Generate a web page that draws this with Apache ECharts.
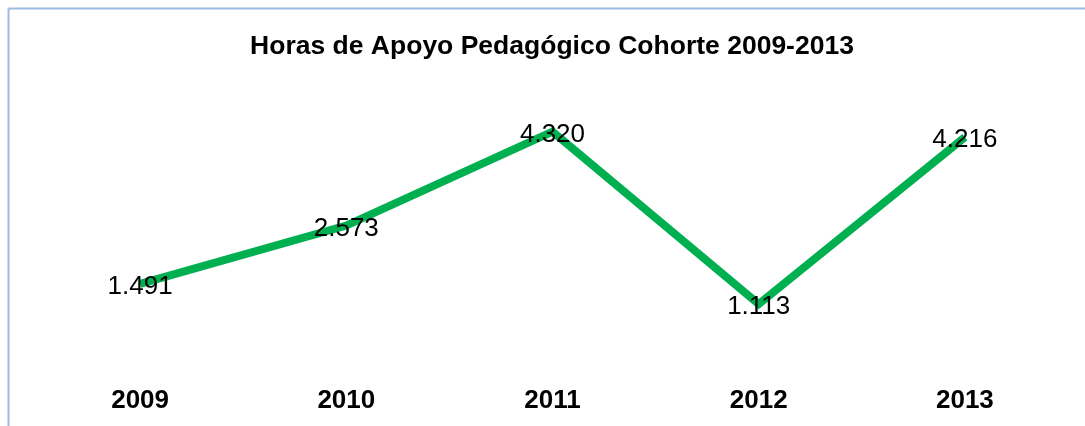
<!DOCTYPE html>
<html>
<head>
<meta charset="utf-8">
<script src="https://cdn.jsdelivr.net/npm/echarts@6/dist/echarts.min.js"></script>
<style>
  html, body { margin: 0; padding: 0; background: #fff; }
  #chart { width: 1085px; height: 426px; }
</style>
</head>
<body>
<div id="chart"></div>
<script>
const years = ['2009', '2010', '2011', '2012', '2013']
const horas = [1491, 2573, 4320, 1113, 4216]

// separador de miles con punto
function fmt(v) {
  return String(v).replace(/\B(?=(\d{3})+(?!\d))/g, '.')
}

const chart = echarts.init(document.getElementById('chart'))
const option = {
  animation: false,
  backgroundColor: '#fff',
  graphic: [
    { type: 'line', shape: { x1: 8.5, y1: 8.5, x2: 1085, y2: 8.5 }, style: { stroke: '#9db9e6', lineWidth: 2 } },
    { type: 'line', shape: { x1: 8.5, y1: 8.5, x2: 8.5, y2: 426 }, style: { stroke: '#9db9e6', lineWidth: 2 } }
  ],
  title: {
    text: 'Horas de Apoyo Pedagógico Cohorte 2009-2013',
    left: 547,
    textAlign: 'center',
    top: 28,
    textStyle: {
      fontFamily: 'Liberation Sans, Arial',
      fontWeight: 'bold',
      fontSize: 26.5,
      color: '#000'
    }
  },
  grid: {
    left: 37,
    right: 17,
    top: 95,
    bottom: 62
  },
  xAxis: {
    type: 'category',
    data: years,
    boundaryGap: true,
    axisLine: { show: false },
    axisTick: { show: false },
    axisLabel: {
      margin: 24,
      fontFamily: 'Liberation Sans, Arial',
      fontWeight: 'bold',
      fontSize: 26,
      color: '#000'
    }
  },
  yAxis: {
    type: 'value',
    min: 0,
    max: 5000,
    show: false,
    splitLine: { show: false }
  },
  series: [{
    type: 'line',
    data: horas,
    symbol: 'circle',
    symbolSize: 1,
    showSymbol: true,
    itemStyle: { color: 'rgba(0,0,0,0)' },
    lineStyle: { color: '#00b050', width: 8, join: 'miter' },
    label: {
      show: true,
      position: 'inside',
      offset: [0, 3],
      formatter: p => fmt(p.value),
      fontFamily: 'Liberation Sans, Arial',
      fontSize: 26,
      color: '#000'
    }
  }]
}
chart.setOption(option)
</script>
</body>
</html>
